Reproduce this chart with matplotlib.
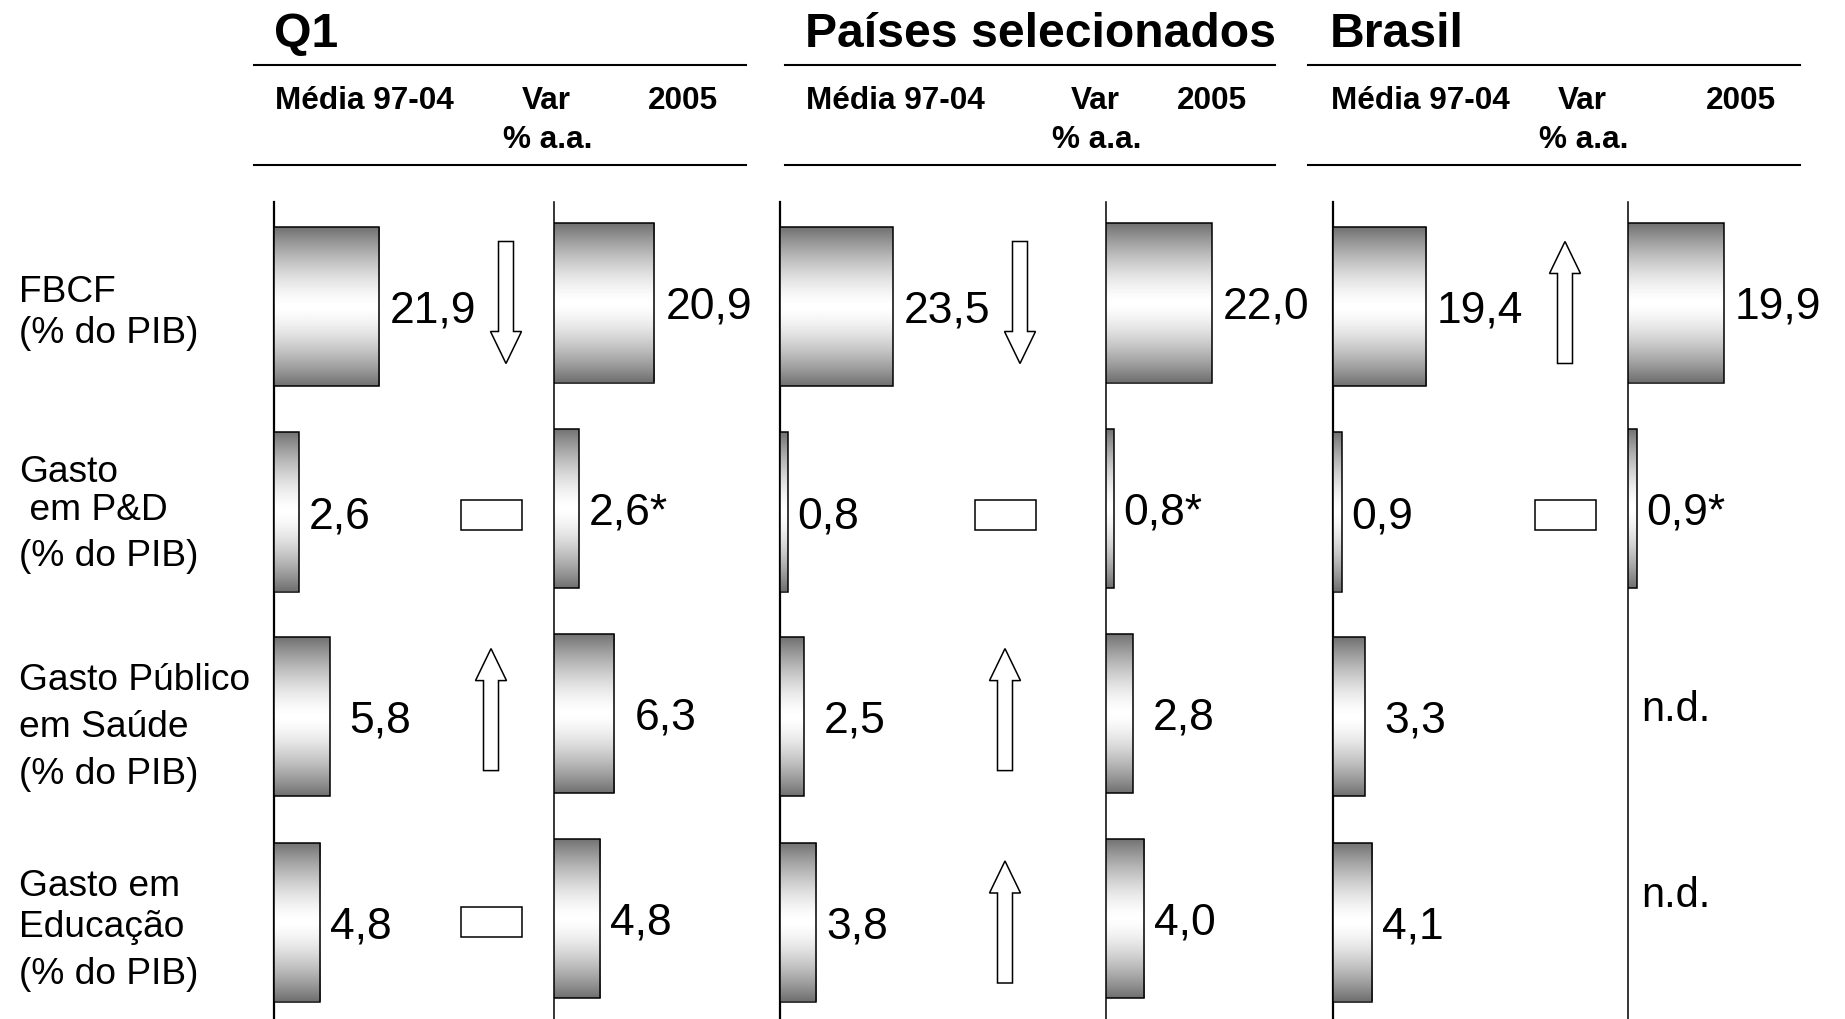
import matplotlib
matplotlib.use("Agg")
import matplotlib.pyplot as plt
import numpy as np
from matplotlib.patches import FancyArrow, Rectangle

plt.rcParams["font.family"] = ["Liberation Sans", "DejaVu Sans"]

# ── Data ───────────────────────────────────────────
GROUPS = ["Q1", "Países selecionados", "Brasil"]
ROW_LABELS = [
    "FBCF\n(% do PIB)",
    "Gasto\n em P&D\n(% do PIB)",
    "Gasto Público\nem Saúde\n(% do PIB)",
    "Gasto em\nEducação\n(% do PIB)",
]

q1_media = [21.9, 2.6, 5.8, 4.8]
q1_2005 = [20.9, 2.6, 6.3, 4.8]
q1_var = ["down", "flat", "up", "flat"]

paises_media = [23.5, 0.8, 2.5, 3.8]
paises_2005 = [22.0, 0.8, 2.8, 4.0]
paises_var = ["down", "flat", "up", "up"]

brasil_media = [19.4, 0.9, 3.3, 4.1]
brasil_2005 = [19.9, 0.9, None, None]
brasil_var = ["up", "flat", None, None]

# 2005 P&D figures are estimates
marks_2005 = ["", "*", "", ""]

MEDIA = [q1_media, paises_media, brasil_media]
Y2005 = [q1_2005, paises_2005, brasil_2005]
VAR = [q1_var, paises_var, brasil_var]

# ── Layout (pixels, y measured from the top) ───────
W, H = 1845, 1019
AXIS_X = [(274, 554), (780, 1106), (1333, 1628)]
GROUP_X = [274, 805, 1330]
VAR_X = [491, 1005, 1565]
VAR_HDR_X = [546, 1095, 1582]
Y05_HDR_X = [683, 1212, 1741]
RULE_X = [(254, 746), (785, 1275), (1308, 1800)]
ROW_Y = [306.5, 512, 716.6, 922]
ROW_H = 205
BAR_PX = 159
SHIFT_2005 = 3.5
CELL_W = 200
PX_PER_UNIT = [4.8, 9.6, 9.6, 9.6]
LABEL_GAP = [11, 10, 20, 10]
ARROW_DY = [-4, 3, -7, 0]
DOWN_SHIFT = 15
ND_RAISE = [0, 0, 8, 27]
# centre of each line of the row labels
LABEL_LINE_Y = [
    [288, 329.5],
    [468, 506, 553],
    [676.6, 723.7, 770.7],
    [882.5, 923.7, 970.8],
]

t = np.linspace(0, 1, 256)
GRADIENT = (0.44 + 0.56 * (1 - np.abs(2 * t - 1) ** 1.5)).reshape(-1, 1)


def fmt(v):
    return f"{v:.1f}".replace(".", ",")


fig = plt.figure(figsize=(W / 100, H / 100), dpi=100)
fig.patch.set_facecolor("white")

# overlay in pixel coordinates for rules, headers, labels and arrows
ov = fig.add_axes([0, 0, 1, 1])
ov.set_xlim(0, W)
ov.set_ylim(H, 0)
ov.axis("off")

for g, name in enumerate(GROUPS):
    ov.text(GROUP_X[g], 47, name, fontsize=34.7, fontweight="bold",
            ha="left", va="baseline")
    x0, x1 = RULE_X[g]
    ov.plot([x0, x1], [65, 65], color="black", lw=1.5)
    ov.plot([x0, x1], [165, 165], color="black", lw=1.5)
    ov.text(GROUP_X[g] + 1, 109, "Média 97-04", fontsize=22.7,
            fontweight="bold", ha="left", va="baseline")
    ov.text(VAR_HDR_X[g], 109, "Var", fontsize=22.7, fontweight="bold",
            ha="center", va="baseline")
    ov.text(VAR_HDR_X[g] + 2, 148, "% a.a.", fontsize=22.7,
            fontweight="bold", ha="center", va="baseline")
    ov.text(Y05_HDR_X[g], 109, "2005", fontsize=22.7, fontweight="bold",
            ha="center", va="baseline")
    for c, ax_x in enumerate(AXIS_X[g]):
        ov.plot([ax_x, ax_x], [202, H], color="black",
                lw=1.6 if c == 0 else 1.1)

for r, label in enumerate(ROW_LABELS):
    for line, y in zip(label.split("\n"), LABEL_LINE_Y[r]):
        ov.text(19, y, line, fontsize=26.7, ha="left", va="center_baseline")

# variation markers
for g in range(len(GROUPS)):
    for r, kind in enumerate(VAR[g]):
        if kind is None:
            continue
        cy = ROW_Y[r] + ARROW_DY[r]
        cx = VAR_X[g]
        if kind == "flat":
            ov.add_patch(Rectangle((cx - 30.5, cy - 14.75), 61, 29.5,
                                   facecolor="white", edgecolor="black",
                                   lw=1.1))
        else:
            sign = 1 if kind == "down" else -1
            if kind == "down":
                cx += DOWN_SHIFT
            ov.add_patch(FancyArrow(cx, cy - sign * 61, 0, sign * 122,
                                    width=15, head_width=31, head_length=32,
                                    length_includes_head=True,
                                    facecolor="white", edgecolor="black",
                                    lw=1.1))


def cell_axes(x_px, cy_px):
    bottom = H - (cy_px + ROW_H / 2)
    ax = fig.add_axes([x_px / W, bottom / H, CELL_W / W, ROW_H / H])
    ax.axis("off")
    return ax


def draw_bar(ax, r, value, mark=""):
    bar_h = BAR_PX / ROW_H
    bar = ax.barh(0, value, height=bar_h, facecolor="none",
                  edgecolor="black", lw=1.1, zorder=3)[0]
    img = ax.imshow(GRADIENT, cmap="gray", vmin=0, vmax=1, aspect="auto",
                    extent=(bar.get_x(), bar.get_x() + bar.get_width(),
                            bar.get_y(), bar.get_y() + bar.get_height()),
                    zorder=2, interpolation="bilinear")
    img.set_clip_path(bar)
    ax.annotate(fmt(value) + mark, xy=(value, 0),
                xytext=(LABEL_GAP[r] * 0.72, 0), textcoords="offset points",
                ha="left", va="center_baseline", fontsize=32)


for g in range(len(GROUPS)):
    for r in range(len(ROW_LABELS)):
        xmax = CELL_W / PX_PER_UNIT[r]

        ax = cell_axes(AXIS_X[g][0], ROW_Y[r])
        draw_bar(ax, r, MEDIA[g][r])
        ax.set_xlim(0, xmax)
        ax.set_ylim(-0.5, 0.5)

        ax = cell_axes(AXIS_X[g][1], ROW_Y[r] - SHIFT_2005)
        v = Y2005[g][r]
        if v is None:
            ax.annotate("n.d.", xy=(0, 0),
                        xytext=(13 * 0.72, ND_RAISE[r] * 0.72),
                        textcoords="offset points", ha="left",
                        va="center_baseline", fontsize=30)
        else:
            draw_bar(ax, r, v, marks_2005[r])
        ax.set_xlim(0, xmax)
        ax.set_ylim(-0.5, 0.5)

fig.savefig("out.png", dpi=100, facecolor="white")
